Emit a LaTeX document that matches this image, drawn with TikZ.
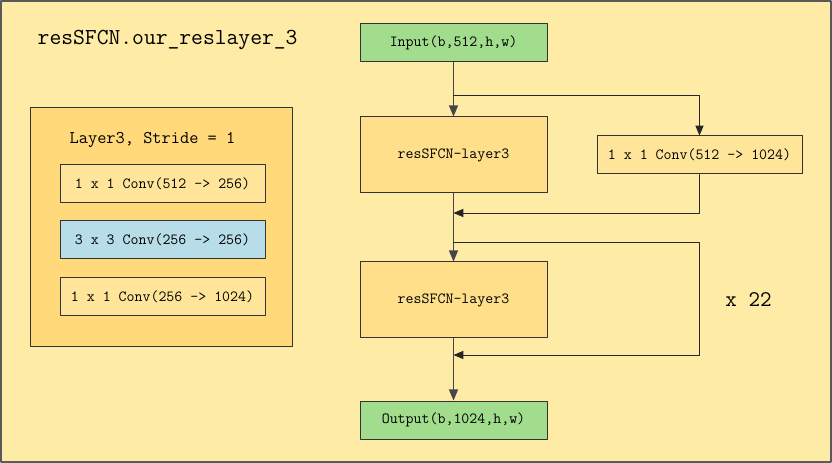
\documentclass[tikz,border=0pt]{standalone}
\usepackage{xcolor}
\usepackage{tikz}
\usetikzlibrary{calc}
\usetikzlibrary{arrows}
\definecolor{bgyel}{RGB}{254,235,166}
\definecolor{outyel}{RGB}{255,217,122}
\definecolor{boxyel}{RGB}{255,229,153}
\definecolor{layyel}{RGB}{255,223,138}
\definecolor{convblue}{RGB}{183,221,232}
\definecolor{iogreen}{RGB}{161,221,141}
\definecolor{linegr}{RGB}{70,70,70}
\tikzstyle{every node}=[font=\ttfamily]
\begin{document}
\begin{tikzpicture}[line cap=round,line join=round,>=triangle 45,x=0.75pt,y=-0.75pt,
    blk/.style={draw=black!80,line width=0.75pt,inner sep=0pt,font=\ttfamily\fontsize{11.6}{13}\selectfont},
    iobox/.style={blk,fill=iogreen,minimum width=140.25pt,minimum height=28.5pt},
    laybox/.style={blk,fill=layyel,minimum width=140.25pt,minimum height=57pt},
    convbox/.style={blk,fill=boxyel,minimum width=153.75pt,minimum height=28.5pt},
    link/.style={->,draw=linegr,line width=0.9pt},
    skip/.style={->,draw=black!85,line width=0.7pt}]
    \useasboundingbox (0,0) rectangle (832,463);
    \draw [line width=1.5pt,draw=black!65,fill=bgyel] (1,1) rectangle (831,462);
    % left part: one block of layer3
    \node [anchor=west,font=\ttfamily\fontsize{17.2}{20}\selectfont] (title) at (33,40) {resSFCN.our\_reslayer\_3};
    \node [draw=black!80,line width=0.75pt,fill=outyel,minimum width=196.5pt,minimum height=179.25pt] (blockbox) at (161,227.5) {};
    \node [font=\ttfamily\fontsize{13.4}{16}\selectfont] (blocktitle) at (152.5,140) {Layer3, Stride = 1};
    \node [convbox] (convA) at (162.5,184) {1 x 1 Conv(512 -> 256)};
    \node [convbox,fill=convblue] (convB) at (162.5,240) {3 x 3 Conv(256 -> 256)};
    \node [convbox] (convC) at (162.5,297) {1 x 1 Conv(256 -> 1024)};
    % right part: the flow
    \node [iobox] (input) at (453.5,43) {Input(b,512,h,w)};
    \node [laybox] (layA) at (453.5,155) {resSFCN-layer3};
    \node [convbox] (down) at (699.5,155) {1 x 1 Conv(512 -> 1024)};
    \node [laybox] (layB) at (453.5,300) {resSFCN-layer3};
    \node [iobox] (output) at (453.5,420) {Output(b,1024,h,w)};
    \node [font=\ttfamily\fontsize{16.8}{20}\selectfont] (times) at (748.5,300) {x 22};
    \coordinate (splitA) at (453.5,95);
    \coordinate (joinA) at (453.5,213);
    \coordinate (splitB) at (453.5,242);
    \coordinate (joinB) at (453.5,355);
    \draw [link] (input) -- (layA);
    \draw [skip] (splitA) -| (down.north);
    \draw [skip] (down.south) |- (joinA);
    \draw [link] (layA) -- (layB);
    \draw [skip] (splitB) -- (splitB -| down.south) |- (joinB);
    \draw [link] (layB) -- (output);
\end{tikzpicture}
\end{document}
